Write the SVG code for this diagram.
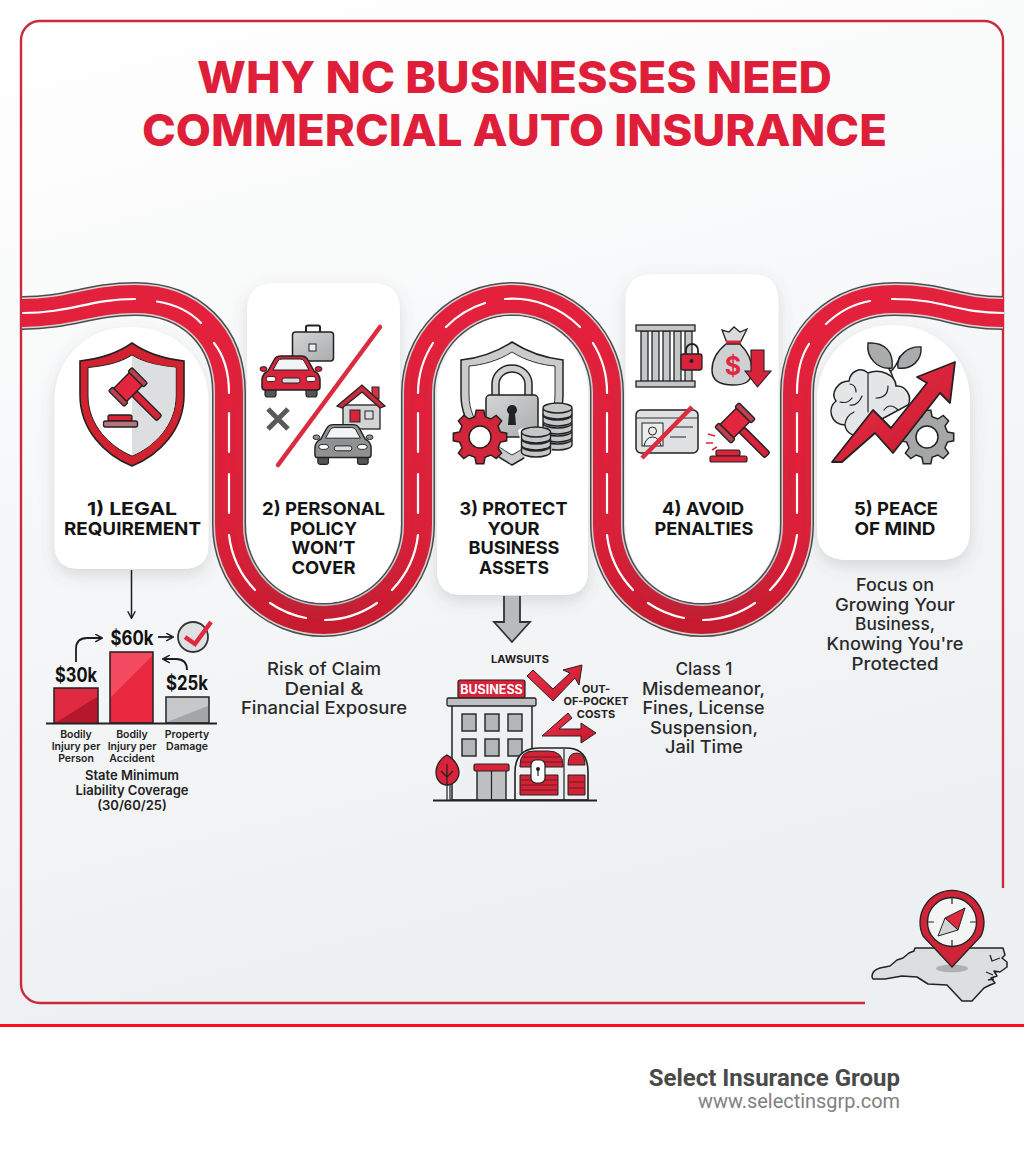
<svg xmlns="http://www.w3.org/2000/svg" xmlns:xlink="http://www.w3.org/1999/xlink" width="1024" height="1154" viewBox="0 0 1024 1154">
<style>
text{font-family:"Inter","Liberation Sans",sans-serif;text-anchor:middle;fill:#1a1a1a}
.title{font-size:44.5px;font-weight:800;fill:#df1f39}
.head{font-size:18px;font-weight:750;fill:#141414}
.desc{font-size:17px;font-weight:500;fill:#2a2a2a}
.val{font-size:20px;font-weight:700;fill:#111}
.lab{font-size:10.5px;font-weight:600;fill:#222}
.min{font-size:13px;font-weight:600;fill:#222}
.small{font-size:11px;font-weight:700;fill:#222}
.foot1{font-family:"Roboto",sans-serif;font-size:24px;font-weight:700;fill:#4a4a4a;text-anchor:end}
.foot2{font-family:"Roboto",sans-serif;font-size:19.5px;font-weight:400;fill:#808080;text-anchor:end}
.card{fill:#fff;filter:url(#sh)}
.frame{fill:none;stroke:#c92a40;stroke-width:2.4}
</style>
<defs>
<linearGradient id="bg" x1="0" y1="0" x2="0.25" y2="1"><stop offset="0" stop-color="#ffffff"/><stop offset="0.5" stop-color="#f6f7f8"/><stop offset="1" stop-color="#edf0f2"/></linearGradient>
<linearGradient id="roadg" gradientUnits="userSpaceOnUse" x1="0" y1="283" x2="0" y2="640"><stop offset="0" stop-color="#e4213c"/><stop offset="0.7" stop-color="#dc2039"/><stop offset="1" stop-color="#c41a2e"/></linearGradient>
<linearGradient id="redb" x1="0" y1="0" x2="1" y2="1"><stop offset="0" stop-color="#f0324b"/><stop offset="1" stop-color="#c2182c"/></linearGradient>
<linearGradient id="greyb" x1="0" y1="0" x2="1" y2="1"><stop offset="0" stop-color="#d4d5d6"/><stop offset="1" stop-color="#a9abad"/></linearGradient>
<filter id="sh" x="-30%" y="-30%" width="160%" height="160%"><feDropShadow dx="0" dy="6" stdDeviation="8" flood-color="#55606a" flood-opacity="0.2"/></filter>
<symbol id="car" viewBox="0 0 62 42" overflow="visible">
<rect x="5" y="28" width="11" height="14" rx="2.5" fill="#555" stroke="#222" stroke-width="1.2"/>
<rect x="46" y="28" width="11" height="14" rx="2.5" fill="#555" stroke="#222" stroke-width="1.2"/>
<ellipse cx="3.5" cy="14" rx="3.5" ry="2.4" fill="currentColor" stroke="#222"/>
<ellipse cx="58.5" cy="14" rx="3.5" ry="2.4" fill="currentColor" stroke="#222"/>
<path d="M8 16 L14 5 Q16 1 21 1 H41 Q46 1 48 5 L54 16 Q60 19 60 25 V32 Q60 35 57 35 H5 Q2 35 2 32 V25 Q2 19 8 16Z" fill="currentColor" stroke="#222" stroke-width="1.5"/>
<path d="M13 15 L18 6 Q19 4 22 4 H40 Q43 4 44 6 L49 15Z" fill="#f2f3f4" stroke="#222"/>
<ellipse cx="11" cy="24" rx="5" ry="2.6" fill="#fff" stroke="#222"/>
<ellipse cx="51" cy="24" rx="5" ry="2.6" fill="#fff" stroke="#222"/>
<rect x="22" y="23" width="18" height="5" rx="2" fill="#ddd" stroke="#222"/>
</symbol>
<g id="gavel">
<rect x="10" y="-4" width="38" height="8" rx="2" fill="#d9233a" stroke="#222" stroke-width="1.5"/>
<rect x="-10" y="-13" width="20" height="26" fill="#e2263e" stroke="#222" stroke-width="1.5"/>
<rect x="-12" y="-18" width="24" height="6" rx="1.5" fill="#b9404e" stroke="#222" stroke-width="1.5"/>
<rect x="-12" y="12" width="24" height="6" rx="1.5" fill="#b9404e" stroke="#222" stroke-width="1.5"/>
</g>
<polygon id="gear" points="20.4,-5.1 26.7,-3.8 26.7,3.8 20.4,5.1 18,10.8 21.6,16.2 16.2,21.6 10.8,18 5.1,20.4 3.8,26.7 -3.8,26.7 -5.1,20.4 -10.8,18 -16.2,21.6 -21.6,16.2 -18,10.8 -20.4,5.1 -26.7,3.8 -26.7,-3.8 -20.4,-5.1 -18,-10.8 -21.6,-16.2 -16.2,-21.6 -10.8,-18 -5.1,-20.4 -3.8,-26.7 3.8,-26.7 5.1,-20.4 10.8,-18 16.2,-21.6 21.6,-16.2 18,-10.8"/>
<path id="coin" d="M-14.5 0 V6 A14.5 5 0 0 0 14.5 6 V0 A14.5 5 0 0 0 -14.5 0 A14.5 5 0 0 0 14.5 0" fill="#c4c6c8" stroke="#222" stroke-width="1.4"/>
<marker id="ah" viewBox="0 0 10 10" refX="8.5" refY="5" markerWidth="9" markerHeight="9" markerUnits="userSpaceOnUse" orient="auto"><path d="M1 0.8 L8.8 5 L1 9.2" fill="none" stroke="#1d1d1d" stroke-width="1.6"/></marker>
<path id="roadline" d="M22 313 C70 313 90 299 135 299 C190 299 229 335 229 393 V525 A94.5 95 0 0 0 418 525 V393 A94.5 94 0 0 1 607 393 V525 A95 95 0 0 0 797 525 V393 C797 335 840 299 895 299 C945 299 955 313 1003 313"/>
</defs>

<rect width="1024" height="1026" fill="url(#bg)"/>
<rect y="1026" width="1024" height="128" fill="#fff"/>
<rect y="1024" width="1024" height="3" fill="#fa0f1c"/>

<g id="frame"><path class="frame" d="M1003 888 V40 A19 19 0 0 0 984 21 H40 A19 19 0 0 0 21 40 V984 A19 19 0 0 0 40 1003 H865"/></g>

<g id="title">
<text class="title" x="514.5" y="92.5" textLength="635" lengthAdjust="spacingAndGlyphs">WHY NC BUSINESSES NEED</text>
<text class="title" x="514.5" y="145.5" textLength="745" lengthAdjust="spacingAndGlyphs">COMMERCIAL AUTO INSURANCE</text>
</g>

<g id="road" fill="none">
<use href="#roadline" stroke="#4c4c4c" stroke-width="34"/>
<use href="#roadline" stroke="#d5d5d6" stroke-width="31"/>
<use href="#roadline" stroke="url(#roadg)" stroke-width="28"/>
<path stroke="#fff" stroke-width="2.2" stroke-linecap="round" d="M23 313 C70 313 90 299 135 299 M157 301.500 Q185 306 201 323 M214 343 Q229 362 229 393 M229 413 V452 M229 474 V513 M229 535 A94.500 95 0 0 0 255 590 M270 603 A94.500 95 0 0 0 306 618 M325 620 A94.500 95 0 0 0 377 603 M392 590 A94.500 95 0 0 0 418 535 M418 513 V474 M418 452 V413 M418 393 A94.500 94 0 0 1 433 343 M446 327 A94.500 94 0 0 1 485 303 M505 299 A94.500 94 0 0 1 580 327 M593 343 A94.500 94 0 0 1 607 393 M607 413 V452 M607 474 V513 M607 535 A95 95 0 0 0 633 590 M648 603 A95 95 0 0 0 684 618 M703 620 A95 95 0 0 0 755 603 M770 590 A95 95 0 0 0 797 535 M797 513 V474 M797 452 V413 M797 393 Q797 362 809 344 M826 324 Q846 305 870 301 M892 299 C945 299 955 313 1003 313"/>
</g>

<g id="node-1">
<path class="card" d="M54.5 400 C54.5 360 85 327 130 327 C178 327 208.5 362 208.5 400 V544 Q208.5 569 183 569 H80 Q54.5 569 54.5 544Z"/>
<path d="M132 343 C115 355 98 359 80 361 L80 395 C80 430 105 455 132 466 C159 455 184 430 184 395 L184 361 C166 359 149 355 132 343Z" fill="#d3222f" stroke="#222" stroke-width="1.6"/>
<path d="M132 355 C118 364 102 366 88 367.500 L88 396 C88 425 110 447 132 456 C154 447 176 425 176 396 L176 367.500 C162 366 146 364 132 355Z" fill="#fff" stroke="#222" stroke-width="1"/>
<path d="M132 356 C146 364 162 366 175.500 367.500 L175.500 396 C175.500 425 154 447 132 455.500Z" fill="#dcdedf"/>
<use href="#gavel" transform="translate(128 387) rotate(45) scale(.92)"/>
<rect x="108" y="415" width="24" height="6" rx="2" fill="#d9233a" stroke="#222" stroke-width="1.3"/>
<rect x="103.500" y="421" width="34" height="6" rx="2" fill="#b9737b" stroke="#222" stroke-width="1.3"/>
<text class="head" x="132" y="515" textLength="90" lengthAdjust="spacingAndGlyphs">1) LEGAL</text>
<text class="head" x="132.500" y="535" textLength="137" lengthAdjust="spacingAndGlyphs">REQUIREMENT</text>
</g>

<g id="node-2">
<path class="card" d="M247 311 Q247 283 275 283 H372 Q400 283 400 311 V526 A76.500 77 0 0 1 247 526Z"/>
<path d="M306 332 V327 Q306 325.500 308 325.500 H318 Q320 325.500 320 327 V332" fill="none" stroke="#222" stroke-width="2"/>
<rect x="292.500" y="332" width="41" height="29" rx="3" fill="url(#greyb)" stroke="#222" stroke-width="1.5"/>
<rect x="309" y="344" width="7" height="7" fill="#eee" stroke="#222"/>
<use href="#car" x="260" y="355" width="62" height="42" style="color:#d9233a"/>
<line x1="380" y1="327" x2="278" y2="465" stroke="#dc2a3f" stroke-width="4.500" stroke-linecap="round"/>
<path d="M268 409 L288 429 M288 409 L268 429" stroke="#5a5a5a" stroke-width="5" fill="none"/>
<rect x="372" y="387" width="7" height="12" fill="#d33245" stroke="#222"/>
<rect x="343" y="405" width="37" height="24" fill="#d3d4d5" stroke="#222" stroke-width="1.3"/>
<path d="M337 406 L362 385 L385 406 L380 408 L362 392 L342 408Z" fill="#c92a3c" stroke="#222" stroke-width="1.3"/>
<rect x="350" y="410" width="10" height="12" fill="#d9233a" stroke="#222"/>
<rect x="365" y="411" width="8" height="8" fill="#ddd" stroke="#222"/>
<use href="#car" x="313" y="423" width="60" height="42" style="color:#8f9193"/>
<text class="head" x="323.500" y="515" textLength="123" lengthAdjust="spacingAndGlyphs">2) PERSONAL</text>
<text class="head" x="323.500" y="535" textLength="67" lengthAdjust="spacingAndGlyphs">POLICY</text>
<text class="head" x="323.500" y="554" textLength="64" lengthAdjust="spacingAndGlyphs">WON’T</text>
<text class="head" x="323.500" y="574" textLength="64" lengthAdjust="spacingAndGlyphs">COVER</text>
</g>

<g id="node-3">
<path class="card" d="M437 393 A75.500 77 0 0 1 588 393 V570 Q588 595 563 595 H462 Q437 595 437 570Z"/>
<path d="M512 342 C495 353 478 358 461 360 L461 395 C461 428 488 452 512 465 C537 452 563 428 563 395 L563 360 C546 358 529 353 512 342Z" fill="#c9cbcd" stroke="#222" stroke-width="1.5"/>
<path d="M512 352 C498 361 482 365 469 366 L469 395 C469 424 492 444 512 455 C533 444 555 424 555 395 L555 366 C542 365 526 361 512 352Z" fill="#fff" stroke="#333"/>
<path d="M492 396 V384 A20 19 0 0 1 532 384 V396 H525 V384 A13 12 0 0 0 499 384 V396Z" fill="#cfd0d2" stroke="#222" stroke-width="1.5"/>
<rect x="486" y="395" width="52" height="42" rx="4" fill="url(#greyb)" stroke="#222" stroke-width="1.5"/>
<path d="M512 405 A5 5 0 0 1 515 414 L516 425 H508 L509 414 A5 5 0 0 1 512 405Z" fill="#222"/>
<g transform="translate(480 437)"><use href="#gear" fill="#d22539" stroke="#222" stroke-width="1.5"/><circle r="11" fill="#fff" stroke="#222" stroke-width="1.5"/></g>
<use href="#coin" x="557.500" y="439"/><use href="#coin" x="557.500" y="431"/><use href="#coin" x="557.500" y="423"/><use href="#coin" x="557.500" y="415"/><use href="#coin" x="557.500" y="408"/>
<path d="M518 430 Q530 424 545 428 L552 450 L525 460 Z" fill="#fff"/>
<use href="#coin" x="536" y="446"/><use href="#coin" x="536" y="439"/><use href="#coin" x="536" y="432"/>
<text class="head" x="513.500" y="515" textLength="108" lengthAdjust="spacingAndGlyphs">3) PROTECT</text>
<text class="head" x="513.500" y="535" textLength="52" lengthAdjust="spacingAndGlyphs">YOUR</text>
<text class="head" x="514" y="554" textLength="91" lengthAdjust="spacingAndGlyphs">BUSINESS</text>
<text class="head" x="514" y="574" textLength="70" lengthAdjust="spacingAndGlyphs">ASSETS</text>
</g>

<g id="node-4">
<path class="card" d="M625.500 302 Q625.500 274 653 274 H751 Q778.500 274 778.500 302 V526 A76.500 77 0 0 1 625.500 526Z"/>
<g fill="#c4c6c8" stroke="#222" stroke-width="1.3">
<rect x="641" y="331" width="7" height="51"/><rect x="652" y="331" width="7" height="51"/><rect x="663" y="331" width="7" height="51"/><rect x="674" y="331" width="7" height="51"/><rect x="685" y="331" width="7" height="51"/>
<rect x="636" y="325" width="59" height="6"/><rect x="636" y="381" width="59" height="6"/>
</g>
<path d="M686 355 V350 A6 6 0 0 1 698 350 V355" fill="none" stroke="#222" stroke-width="1.800"/>
<rect x="681" y="354" width="21" height="16" rx="2.500" fill="#d9233a" stroke="#222" stroke-width="1.3"/>
<circle cx="691.500" cy="361" r="2" fill="#222"/>
<path d="M726 344 C716 352 712 362 712 370 C712 382 722 385 733 385 C745 385 752 382 752 370 C752 362 748 352 740 344Z" fill="#cfd0d2" stroke="#222" stroke-width="1.5"/>
<path d="M727 343 L722 330 L729 332 L734 327 L740 332 L747 329 L740 343Z" fill="#d9dadb" stroke="#222" stroke-width="1.3"/>
<rect x="726" y="340.500" width="15" height="3" fill="#d9233a"/>
<text x="733" y="375" style="font-size:25px;font-weight:700;fill:#e0283f">$</text>
<path d="M751 350 H764 V371 H771 L757.500 387 L745 371 H751Z" fill="#d9233a" stroke="#222" stroke-width="1.100"/>
<rect x="636" y="410" width="62" height="43" rx="5" fill="#dfe0e1" stroke="#222" stroke-width="1.5"/>
<path d="M636 418 H698" stroke="#333"/>
<rect x="642" y="423" width="21" height="23" fill="#eceded" stroke="#222"/>
<circle cx="652.500" cy="431" r="4" fill="none" stroke="#222"/>
<path d="M644 446 Q646 437 652.500 437 Q659 437 661 446" fill="none" stroke="#222"/>
<path d="M670 427 H693 M670 437 H686" stroke="#222" stroke-width="1.2"/>
<line x1="692" y1="407" x2="642" y2="458" stroke="#dc2a3f" stroke-width="4.500"/>
<use href="#gavel" transform="translate(735 423) rotate(45) scale(.95)"/>
<path d="M708 434 L715 436 M706 443 L713 443 M712 450 L717 447" stroke="#d9233a" stroke-width="1.500"/>
<rect x="716" y="450" width="24" height="6" rx="2" fill="#d9233a" stroke="#222" stroke-width="1.2"/>
<rect x="710" y="456" width="37" height="6" rx="2" fill="#d9233a" stroke="#222" stroke-width="1.2"/>
<text class="head" x="703" y="515" textLength="82" lengthAdjust="spacingAndGlyphs">4) AVOID</text>
<text class="head" x="704" y="535" textLength="99" lengthAdjust="spacingAndGlyphs">PENALTIES</text>
</g>

<g id="node-5">
<path class="card" d="M817 400 C817 358 850 325 893 325 C936 325 970 358 970 400 V530 Q970 560 940 560 H847 Q817 560 817 530Z"/>
<path d="M896 392 C895 378 890 370 885 362 M890 372 C895 368 898 362 900 356" fill="none" stroke="#222" stroke-width="1.500"/>
<path d="M868 343 C885 342 894 352 892 368 C878 370 866 358 868 343Z" fill="#a9abad" stroke="#222" stroke-width="1.400"/>
<path d="M921 347 C908 346 896 356 898 368 C912 370 922 360 921 347Z" fill="#a9abad" stroke="#222" stroke-width="1.400"/>
<path d="M868 373 C860 366 850 372 849 381 C838 381 830 393 836 401 C827 408 830 424 845 425 C846 434 856 438 862 434 L880 420 L908 405 C913 396 905 385 896 386 C896 375 880 368 868 373Z" fill="#e3e5e7" stroke="#222" stroke-width="1.500"/>
<path d="M868 374 V412 M850 384 Q856 385 856 392 M840 402 Q848 404 852 398 M862 396 Q858 406 850 405 M845 424 Q846 416 854 412 M888 386 Q888 398 876 398 M884 410 Q890 402 898 410" fill="none" stroke="#222" stroke-width="1.200" stroke-linecap="round"/>
<g transform="translate(927 437)"><use href="#gear" fill="#a4a6a8" stroke="#222" stroke-width="1.500"/><circle r="11" fill="#fff" stroke="#222" stroke-width="1.500"/></g>
<path d="M832 462 L873 410 L891 428 L927 383 L917 377 L955 362 L950 403 L940 393 L893 453 L875 433 L842 462Z" fill="url(#redb)" stroke="#222" stroke-width="1.800" stroke-linejoin="round"/>
<text class="head" x="896" y="515" textLength="84" lengthAdjust="spacingAndGlyphs">5) PEACE</text>
<text class="head" x="895" y="535" textLength="81" lengthAdjust="spacingAndGlyphs">OF MIND</text>
</g>

<g id="connectors">
<path d="M131.500 570 V618" fill="none" stroke="#1d1d1d" stroke-width="1.500" marker-end="url(#ah)"/>
<path d="M76 662 V649 Q76 638 87 638 H102" fill="none" stroke="#1d1d1d" stroke-width="1.800" marker-end="url(#ah)"/>
<path d="M158 637 H173" fill="none" stroke="#1d1d1d" stroke-width="1.800" marker-end="url(#ah)"/>
<path d="M187 670 Q187 659 176 659 H163" fill="none" stroke="#1d1d1d" stroke-width="1.800" marker-end="url(#ah)"/>
<path d="M504 596 V622 H494 L512 642 L530 622 H520 V596" fill="#b8babc" stroke="#333" stroke-width="1.800"/>
</g>

<g id="chart">
<rect x="54" y="688" width="44" height="35" fill="#e02a42" stroke="#222" stroke-width="1.500"/>
<path d="M55 723 L97 697 V723Z" fill="#b5182b"/>
<rect x="110" y="652" width="43" height="71" fill="#e9283f" stroke="#222" stroke-width="1.500"/>
<path d="M111 697 L152 656 V653 H111Z" fill="#f24a60"/>
<rect x="166" y="697" width="43" height="26" fill="#c6c8ca" stroke="#222" stroke-width="1.500"/>
<path d="M167 722 L208 706 V722Z" fill="#a3a5a7"/>
<path d="M46 723.500 H217" stroke="#222" stroke-width="1.800"/>
<text class="val" x="76" y="682" textLength="42" lengthAdjust="spacingAndGlyphs">$30k</text>
<text class="val" x="132" y="645" textLength="43" lengthAdjust="spacingAndGlyphs">$60k</text>
<text class="val" x="187" y="690" textLength="42" lengthAdjust="spacingAndGlyphs">$25k</text>
<circle cx="193" cy="637" r="15" fill="#dfe0e1" stroke="#333" stroke-width="1.800"/>
<path d="M185 637 L195 644 L211 622" fill="none" stroke="#e0283f" stroke-width="4.500"/>
<text class="lab" x="76" y="738">Bodily</text><text class="lab" x="76" y="750">Injury per</text><text class="lab" x="76" y="762">Person</text>
<text class="lab" x="132" y="738">Bodily</text><text class="lab" x="132" y="750">Injury per</text><text class="lab" x="132" y="762">Accident</text>
<text class="lab" x="187" y="738">Property</text><text class="lab" x="187" y="750">Damage</text>
<text class="min" x="132" y="780">State Minimum</text>
<text class="min" x="132" y="795">Liability Coverage</text>
<text class="min" x="132" y="810">(30/60/25)</text>
</g>

<g id="desc-2">
<text class="desc" x="324" y="675" textLength="114" lengthAdjust="spacingAndGlyphs">Risk of Claim</text>
<text class="desc" x="324" y="695" textLength="79" lengthAdjust="spacingAndGlyphs">Denial &amp;</text>
<text class="desc" x="324" y="714" textLength="166" lengthAdjust="spacingAndGlyphs">Financial Exposure</text>
</g>

<g id="assets">
<text class="small" x="520" y="663">LAWSUITS</text>
<path d="M533 670 L553 689 L570 673 L563 670 L582 665 L579 685 L575 678 L553 701 L527 676Z" fill="url(#redb)" stroke="#222" stroke-width="1" stroke-linejoin="round"/>
<text class="small" x="596" y="693">OUT-</text>
<text class="small" x="596" y="705" textLength="65" lengthAdjust="spacingAndGlyphs">OF-POCKET</text>
<text class="small" x="596" y="718">COSTS</text>
<path d="M568 713 L572 718 L559 729 H581 V723 L596 733 L581 743 V736 H542Z" fill="url(#redb)" stroke="#222" stroke-width="1" stroke-linejoin="round"/>
<rect x="452" y="705" width="80" height="95" fill="#eff0f1" stroke="#222" stroke-width="1.500"/>
<rect x="458" y="680" width="67" height="18" rx="2" fill="#d9233a" stroke="#222" stroke-width="1.200"/>
<text x="491.500" y="694" style="font-size:12.500px;font-weight:700;fill:#fff">BUSINESS</text>
<rect x="447" y="698" width="89" height="8" rx="1.500" fill="#bdbfc1" stroke="#222" stroke-width="1.300"/>
<g fill="#b3b5b7" stroke="#222" stroke-width="1.400">
<rect x="462" y="714" width="14" height="17"/><rect x="485" y="714" width="14" height="17"/><rect x="508" y="714" width="14" height="17"/>
<rect x="462" y="739" width="14" height="17"/><rect x="485" y="739" width="14" height="17"/><rect x="508" y="739" width="14" height="17"/>
<rect x="477" y="770" width="29" height="30" fill="#bdbfc1"/>
</g>
<path d="M491.500 771 V800" stroke="#222" stroke-width="1.200"/>
<rect x="474" y="764" width="35" height="7" rx="1.500" fill="#d9233a" stroke="#222" stroke-width="1.200"/>
<path d="M447 755 C438 760 436 768 436 772 C436 780 441 785 447 785 C453 785 459 780 459 772 C459 768 456 760 447 755Z" fill="#d9233a" stroke="#222" stroke-width="1.300"/>
<path d="M447 764 V800 M447 777 L441 771 M447 777 L453 771 M450 785 V800" fill="none" stroke="#222" stroke-width="1.200"/>
<path d="M515 800 V772 Q515 748 540 748 H566 Q588 748 588 772 V800Z" fill="#eeeff0" stroke="#222" stroke-width="1.600"/>
<path d="M520 765 V767 H563 V765 Q563 751 548 751 H534 Q520 751 520 765Z" fill="#cf2437" stroke="#222" stroke-width="1"/>
<path d="M520 775 H558 V795 H520Z" fill="#cf2437" stroke="#222" stroke-width="1"/>
<path d="M522 757 H560 M520 762 H563 M520 780 H558 M520 785 H558 M520 790 H558" stroke="#7d1420" stroke-width="1"/>
<path d="M568 765 Q568 753 576.500 753 Q585 753 585 765Z M568 775 H585 V795 H568Z" fill="#cf2437" stroke="#222"/>
<path d="M568 782 H585 M568 788 H585" stroke="#7d1420"/>
<path d="M564 749 V800" stroke="#222" stroke-width="1.200"/>
<rect x="531" y="760" width="14" height="23" rx="5" fill="#fff" stroke="#222" stroke-width="1.200"/>
<circle cx="538" cy="769" r="2" fill="#222"/><path d="M538 770 V776" stroke="#222" stroke-width="1.200"/>
<path d="M433 800.500 H597" stroke="#222" stroke-width="1.800"/>
</g>

<g id="desc-4">
<text class="desc" x="704" y="675" textLength="57" lengthAdjust="spacingAndGlyphs">Class 1</text>
<text class="desc" x="703.500" y="695" textLength="123" lengthAdjust="spacingAndGlyphs">Misdemeanor,</text>
<text class="desc" x="703.500" y="714" textLength="122" lengthAdjust="spacingAndGlyphs">Fines, License</text>
<text class="desc" x="704" y="734" textLength="108" lengthAdjust="spacingAndGlyphs">Suspension,</text>
<text class="desc" x="704" y="753" textLength="78" lengthAdjust="spacingAndGlyphs">Jail Time</text>
</g>

<g id="desc-5">
<text class="desc" x="895" y="591" textLength="78" lengthAdjust="spacingAndGlyphs">Focus on</text>
<text class="desc" x="895" y="611" textLength="120" lengthAdjust="spacingAndGlyphs">Growing Your</text>
<text class="desc" x="895" y="630" textLength="80" lengthAdjust="spacingAndGlyphs">Business,</text>
<text class="desc" x="895" y="650" textLength="137" lengthAdjust="spacingAndGlyphs">Knowing You're</text>
<text class="desc" x="895" y="670" textLength="87" lengthAdjust="spacingAndGlyphs">Protected</text>
</g>

<g id="nc-map">
<path d="M872 977 C872 972 876 969 880 968 L890 966 L897 960 L903 958 L909 953 L914 951 L915 948 L1003 948 L1005 955 L1002 958 L1007 962 L1007 967 L1000 972 L994 971 L997 976 L991 978 L995 983 L990 985 L984 988 L972 1001 L962 1001 L947 985 L928 984 L917 977 L902 976 L885 979 L873 979Z" fill="#dcdedf" stroke="#222" stroke-width="1.500" stroke-linejoin="round"/>
<path d="M990 955 L992 961 L1000 958 M986 972 L993 975 M988 980 L994 979" stroke="#222" stroke-width="1.300" fill="none"/>
<ellipse cx="952" cy="968.500" rx="16" ry="3.800" fill="#aeb0b2"/>
<path d="M923 936 A32 32 0 1 1 981 936 L952 967Z" fill="#cf2437" stroke="#222" stroke-width="1.300" stroke-linejoin="round"/>
<circle cx="952" cy="922" r="24.500" fill="#f3f4f4" stroke="#222" stroke-width="1.300"/>
<path d="M952 898 V904 M952 940 V946 M928 922 H934 M970 922 H976" stroke="#222" stroke-width="1.200"/>
<path d="M965 908 L945 918 L958 930Z" fill="#e0283f" stroke="#222"/>
<path d="M938 936 L945 918 L958 930Z" fill="#d3d4d5" stroke="#222"/>
</g>

<g id="footer">
<text class="foot1" x="900" y="1086">Select Insurance Group</text>
<text class="foot2" x="900" y="1107.500" textLength="202" lengthAdjust="spacingAndGlyphs">www.selectinsgrp.com</text>
</g>
</svg>
